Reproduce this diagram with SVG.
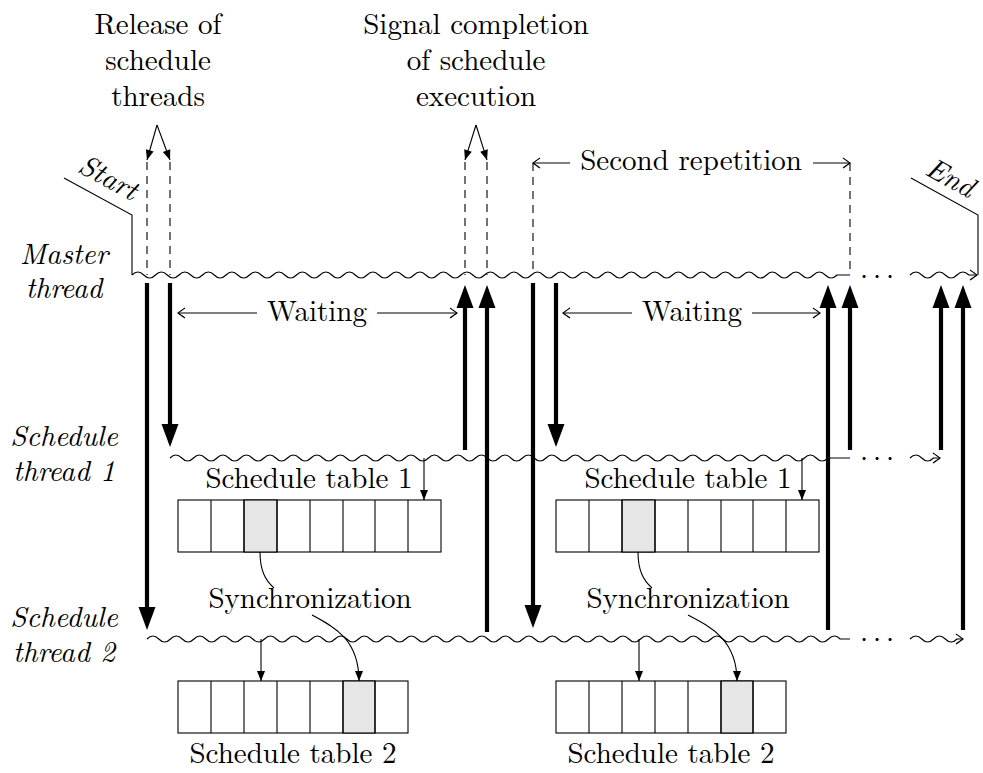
<svg xmlns="http://www.w3.org/2000/svg" width="983" height="773" viewBox="0 0 983 773">
<style>
.thin{fill:none;stroke:#000;stroke-width:1.1}
.dash{fill:none;stroke:#000;stroke-width:1.1;stroke-dasharray:8 6}
.thick{fill:none;stroke:#000;stroke-width:4.2}
.wave{fill:none;stroke:#000;stroke-width:1.1}
.cell{fill:#fff;stroke:#000;stroke-width:1.1}
.shade{fill:#e6e6e6;stroke:#000;stroke-width:1.1}
</style>
<defs>
<marker id="big" markerUnits="userSpaceOnUse" markerWidth="30" markerHeight="30" refX="0" refY="0" orient="auto" overflow="visible">
<path d="M0,-8.5 L23,0 L0,8.5 Z" fill="#000"/>
</marker>
<marker id="sm" markerUnits="userSpaceOnUse" markerWidth="14" markerHeight="14" refX="10" refY="0" orient="auto" overflow="visible">
<path d="M0,-4 L10,0 L0,4 Z" fill="#000"/>
</marker>
<marker id="open" markerUnits="userSpaceOnUse" markerWidth="14" markerHeight="14" refX="0" refY="0" orient="auto" overflow="visible">
<path d="M-7,-5 Q-2,-1.5 0,0 Q-2,1.5 -7,5" fill="none" stroke="#000" stroke-width="1.1"/>
</marker>
</defs>
<rect width="983" height="773" fill="#fff"/>

<g font-family="Latin Modern Roman, serif" font-size="29" fill="#000" text-anchor="middle">
<g id="threads">
<g id="master-thread">
<path class="thin" d="M64 178 L132 215 L132 275"/>
<path class="wave" d="M132 275 q5.875 -6 11.75 0 t11.75 0 t11.75 0 t11.75 0 t11.75 0 t11.75 0 t11.75 0 t11.75 0 t11.75 0 t11.75 0 t11.75 0 t11.75 0 t11.75 0 t11.75 0 t11.75 0 t11.75 0 t11.75 0 t11.75 0 t11.75 0 t11.75 0 t11.75 0 t11.75 0 t11.75 0 t11.75 0 t11.75 0 t11.75 0 t11.75 0 t11.75 0 t11.75 0 t11.75 0 t11.75 0 t11.75 0 t11.75 0 t11.75 0 t11.75 0 t11.75 0 t11.75 0 t11.75 0 t11.75 0 t11.75 0 t11.75 0 t11.75 0 t11.75 0 t11.75 0 t11.75 0 t11.75 0 t11.75 0 t11.75 0 t11.75 0 t11.75 0 t11.75 0 t11.75 0 t11.75 0 t11.75 0 t11.75 0 t11.75 0 t11.75 0 t11.75 0 t11.75 0 t11.75 0 L850 275"/>
<path class="wave" marker-end="url(#open)" d="M910 275 q5.875 -6 11.75 0 t11.75 0 t11.75 0 t11.75 0 t11.75 0 L977 275"/>
<path class="thin" d="M911 178 L978 215 L978 275"/>
<text y="286"><tspan x="864">·</tspan><tspan x="877">·</tspan><tspan x="890">·</tspan></text>
<text font-style="italic" x="64" y="264">Master</text>
<text font-style="italic" x="64" y="298">thread</text>
<text font-style="italic" transform="translate(104,186) rotate(28.5)">Start</text>
<text font-style="italic" transform="translate(946,186) rotate(29)">End</text>
</g>
<g id="schedule-thread-1">
<path class="wave" d="M170 458 q5.875 -6 11.75 0 t11.75 0 t11.75 0 t11.75 0 t11.75 0 t11.75 0 t11.75 0 t11.75 0 t11.75 0 t11.75 0 t11.75 0 t11.75 0 t11.75 0 t11.75 0 t11.75 0 t11.75 0 t11.75 0 t11.75 0 t11.75 0 t11.75 0 t11.75 0 t11.75 0 t11.75 0 t11.75 0 t11.75 0 t11.75 0 t11.75 0 t11.75 0 t11.75 0 t11.75 0 t11.75 0 t11.75 0 t11.75 0 t11.75 0 t11.75 0 t11.75 0 t11.75 0 t11.75 0 t11.75 0 t11.75 0 t11.75 0 t11.75 0 t11.75 0 t11.75 0 t11.75 0 t11.75 0 t11.75 0 t11.75 0 t11.75 0 t11.75 0 t11.75 0 t11.75 0 t11.75 0 t11.75 0 t11.75 0 t11.75 0 L850 458"/>
<path class="wave" marker-end="url(#open)" d="M910 458 q5.875 -6 11.75 0 t11.75 0 L940 458"/>
<text y="468"><tspan x="864">·</tspan><tspan x="877">·</tspan><tspan x="890">·</tspan></text>
<text font-style="italic" x="64" y="446">Schedule</text>
<text font-style="italic" x="64" y="481">thread 1</text>
</g>
<g id="schedule-thread-2">
<path class="wave" d="M147 639 q5.875 -6 11.75 0 t11.75 0 t11.75 0 t11.75 0 t11.75 0 t11.75 0 t11.75 0 t11.75 0 t11.75 0 t11.75 0 t11.75 0 t11.75 0 t11.75 0 t11.75 0 t11.75 0 t11.75 0 t11.75 0 t11.75 0 t11.75 0 t11.75 0 t11.75 0 t11.75 0 t11.75 0 t11.75 0 t11.75 0 t11.75 0 t11.75 0 t11.75 0 t11.75 0 t11.75 0 t11.75 0 t11.75 0 t11.75 0 t11.75 0 t11.75 0 t11.75 0 t11.75 0 t11.75 0 t11.75 0 t11.75 0 t11.75 0 t11.75 0 t11.75 0 t11.75 0 t11.75 0 t11.75 0 t11.75 0 t11.75 0 t11.75 0 t11.75 0 t11.75 0 t11.75 0 t11.75 0 t11.75 0 t11.75 0 t11.75 0 t11.75 0 t11.75 0 t11.75 0 L850 639"/>
<path class="wave" marker-end="url(#open)" d="M910 639 q5.875 -6 11.75 0 t11.75 0 t11.75 0 t11.75 0 L963 639"/>
<text y="649"><tspan x="864">·</tspan><tspan x="877">·</tspan><tspan x="890">·</tspan></text>
<text font-style="italic" x="64" y="627">Schedule</text>
<text font-style="italic" x="64" y="662">thread 2</text>
</g>
</g>

<g id="label-release">
<text x="158" y="34">Release of</text>
<text x="158" y="70">schedule</text>
<text x="158" y="106">threads</text>
</g>
<g id="label-signal">
<text x="476" y="34">Signal completion</text>
<text x="476" y="70">of schedule</text>
<text x="476" y="106">execution</text>
</g>
<g id="label-second-repetition">
<text x="691" y="170">Second repetition</text>
</g>
<g id="label-waiting-1"><text x="317" y="321">Waiting</text></g>
<g id="label-waiting-2"><text x="692" y="321">Waiting</text></g>

<g id="table-1a">
<rect class="cell" x="178" y="500" width="263" height="52"/>
<rect class="shade" x="244" y="500" width="33" height="52"/>
<path class="thin" d="M211 500V552M244 500V552M277 500V552M310 500V552M343 500V552M375 500V552M408 500V552"/>
<text x="309" y="488">Schedule table 1</text>
</g>
<g id="table-1b">
<rect class="cell" x="556" y="500" width="263" height="52"/>
<rect class="shade" x="622" y="500" width="33" height="52"/>
<path class="thin" d="M589 500V552M622 500V552M655 500V552M688 500V552M721 500V552M753 500V552M786 500V552"/>
<text x="688" y="488">Schedule table 1</text>
</g>
<g id="table-2a">
<rect class="cell" x="178" y="681" width="230" height="52"/>
<rect class="shade" x="343" y="681" width="32" height="52"/>
<path class="thin" d="M211 681V733M244 681V733M277 681V733M310 681V733M343 681V733M375 681V733"/>
<text x="293" y="763">Schedule table 2</text>
</g>
<g id="table-2b">
<rect class="cell" x="556" y="681" width="230" height="52"/>
<rect class="shade" x="721" y="681" width="32" height="52"/>
<path class="thin" d="M589 681V733M622 681V733M655 681V733M688 681V733M721 681V733M753 681V733"/>
<text x="671" y="763">Schedule table 2</text>
</g>
<g id="sync-1"><text x="310" y="608">Synchronization</text></g>
<g id="sync-2"><text x="688" y="608">Synchronization</text></g>
</g>

<g id="connectors">
<path class="dash" d="M147 162V275M170 162V275M465 162V275M487 162V275M533 163V275M850 163V275"/>
<path class="thin" marker-end="url(#sm)" d="M157 125 L147 160"/>
<path class="thin" marker-end="url(#sm)" d="M157 125 L170 160"/>
<path class="thin" marker-end="url(#sm)" d="M476 125 L465 160"/>
<path class="thin" marker-end="url(#sm)" d="M476 125 L487 160"/>
<path class="thin" marker-end="url(#open)" d="M570 163 L533 163"/>
<path class="thin" marker-end="url(#open)" d="M813 163 L850 163"/>
<path class="thin" marker-end="url(#open)" d="M257 313 L178 313"/>
<path class="thin" marker-end="url(#open)" d="M377 313 L457 313"/>
<path class="thin" marker-end="url(#open)" d="M632 313 L563 313"/>
<path class="thin" marker-end="url(#open)" d="M752 313 L820 313"/>
<path class="thick" marker-end="url(#big)" d="M147 283V607"/>
<path class="thick" marker-end="url(#big)" d="M170 283V424"/>
<path class="thick" marker-end="url(#big)" d="M465 450V308"/>
<path class="thick" marker-end="url(#big)" d="M487 632V308"/>
<path class="thick" marker-end="url(#big)" d="M533 283V605"/>
<path class="thick" marker-end="url(#big)" d="M556 283V424"/>
<path class="thick" marker-end="url(#big)" d="M828 630V308"/>
<path class="thick" marker-end="url(#big)" d="M850 450V308"/>
<path class="thick" marker-end="url(#big)" d="M941 450V308"/>
<path class="thick" marker-end="url(#big)" d="M963 630V308"/>
<path class="thin" marker-end="url(#sm)" d="M424 458V500"/>
<path class="thin" marker-end="url(#sm)" d="M802 458V500"/>
<path class="thin" marker-end="url(#sm)" d="M261 639V681"/>
<path class="thin" marker-end="url(#sm)" d="M639 639V681"/>
<path class="thin" d="M260 552 C260 570 265 580 274 588"/>
<path class="thin" marker-end="url(#sm)" d="M312 615 C335 627 359 640 359 681"/>
<path class="thin" d="M638 552 C638 570 643 580 652 588"/>
<path class="thin" marker-end="url(#sm)" d="M688 615 C711 627 737 640 737 681"/>
</g>
</svg>
